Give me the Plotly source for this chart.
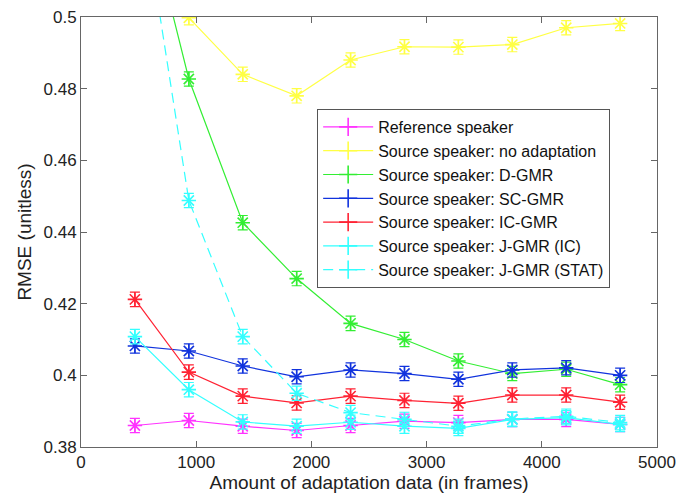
import plotly.graph_objects as go

frames = [468, 936, 1404, 1872, 2340, 2808, 3276, 3744, 4212, 4680]

reference = [0.3860, 0.3874, 0.3858, 0.3846, 0.3860, 0.3872, 0.3868, 0.3877, 0.3877, 0.3863]
no_adapt = [0.530, 0.4998, 0.4840, 0.4780, 0.4880, 0.4917, 0.4916, 0.4923, 0.4970, 0.4982]
d_gmr = [0.543, 0.4827, 0.4426, 0.4270, 0.4145, 0.4100, 0.4040, 0.4005, 0.4017, 0.3974]
sc_gmr = [0.4082, 0.4068, 0.4026, 0.3996, 0.4015, 0.4005, 0.3989, 0.4015, 0.4021, 0.4000]
ic_gmr = [0.4212, 0.4009, 0.3942, 0.3923, 0.3942, 0.3930, 0.3922, 0.3945, 0.3945, 0.3925]
j_gmr_ic = [0.4108, 0.3960, 0.3870, 0.3858, 0.3869, 0.3858, 0.3852, 0.3877, 0.3882, 0.3863]
j_gmr_stat = [0.545, 0.4488, 0.4108, 0.3950, 0.3896, 0.3877, 0.3858, 0.3878, 0.3886, 0.3868]

err = 0.002

series = [
    ("Reference speaker", reference, "#ff33ff", "solid"),
    ("Source speaker: no adaptation", no_adapt, "#ffff44", "solid"),
    ("Source speaker: D-GMR", d_gmr, "#33ee33", "solid"),
    ("Source speaker: SC-GMR", sc_gmr, "#1133dd", "solid"),
    ("Source speaker: IC-GMR", ic_gmr, "#ff2233", "solid"),
    ("Source speaker: J-GMR (IC)", j_gmr_ic, "#33ffff", "solid"),
    ("Source speaker: J-GMR (STAT)", j_gmr_stat, "#33ffff", "dash"),
]

DASH = "10px,6px"

fig = go.Figure()
for name, vals, color, dash in series:
    fig.add_trace(go.Scatter(
        x=frames, y=vals, mode="lines+markers", name=name, showlegend=False,
        line=dict(color=color, width=1.2, dash=DASH if dash == "dash" else "solid"),
        marker=dict(symbol="asterisk-open", size=12, color=color, line=dict(color=color, width=1.6)),
        error_y=dict(type="constant", value=err, color=color, thickness=1.2, width=5),
        cliponaxis=True,
    ))
for name, vals, color, dash in series:
    fig.add_trace(go.Scatter(
        x=[None], y=[None], mode="lines+markers", name=name, showlegend=True,
        line=dict(color=color, width=1.2, dash=DASH if dash == "dash" else "solid"),
        marker=dict(symbol="cross-thin-open", size=13, color=color, line=dict(color=color, width=1.6)),
    ))

yt = [0.38, 0.40, 0.42, 0.44, 0.46, 0.48, 0.50]
yt_text = ["0.38", "0.4", "0.42", "0.44", "0.46", "0.48", "0.5"]
xt = [0, 1000, 2000, 3000, 4000, 5000]

axis_common = dict(
    showgrid=False, zeroline=False, showline=True, linecolor="#666666", linewidth=1,
    mirror="ticks", ticks="inside", ticklen=6, tickcolor="#666666", automargin=False,
    ticklabeloverflow="allow",
    tickfont=dict(family="Liberation Sans, Arial, sans-serif", size=17, color="#222222"),
)

# page body has an 8px default margin; compensate so plot area lands where the reference has it
fig.update_layout(
    width=684, height=488,
    margin=dict(l=73, r=35, t=9, b=49),
    paper_bgcolor="white", plot_bgcolor="white",
    font=dict(family="Liberation Sans, Arial, sans-serif", color="#222222"),
    xaxis=dict(range=[0, 5000], tickvals=xt, ticktext=[str(v) for v in xt],
               title=dict(text="Amount of adaptation data (in frames)", font=dict(size=19), standoff=0),
               **axis_common),
    yaxis=dict(range=[0.38, 0.5], tickvals=yt, ticktext=yt_text,
               title=dict(text="RMSE (unitless)", font=dict(size=19), standoff=6),
               **axis_common),
    legend=dict(x=0.41, y=0.786, xanchor="left", yanchor="top",
                bgcolor="white", bordercolor="#555555", borderwidth=1,
                font=dict(size=16, color="#111111"), tracegroupgap=0, itemwidth=50),
)

fig.write_html("out.html")
